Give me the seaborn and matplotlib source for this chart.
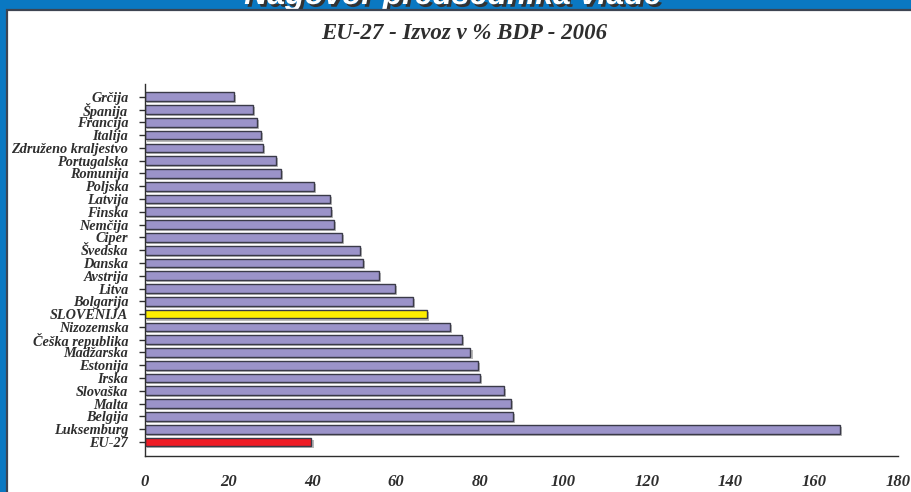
import pandas as pd
import matplotlib
matplotlib.use("Agg")
import matplotlib.pyplot as plt
import matplotlib.patheffects as pe
from matplotlib.patches import Rectangle
from matplotlib.ticker import MultipleLocator
import seaborn as sns

# Data (export as % of GDP, 2006)
countries = [
    "Grčija", "Španija", "Francija", "Italija", "Združeno kraljestvo",
    "Portugalska", "Romunija", "Poljska", "Latvija", "Finska", "Nemčija",
    "Ciper", "Švedska", "Danska", "Avstrija", "Litva", "Bolgarija",
    "SLOVENIJA", "Nizozemska", "Češka republika", "Madžarska", "Estonija",
    "Irska", "Slovaška", "Malta", "Belgija", "Luksemburg", "EU-27",
]
export_pct = [
    21.3, 25.9, 26.7, 27.7, 28.3,
    31.3, 32.4, 40.3, 44.2, 44.5, 45.1,
    47.1, 51.3, 52.1, 55.9, 59.8, 64.0,
    67.4, 73.0, 75.8, 77.8, 79.6,
    80.1, 85.8, 87.5, 87.9, 166.2, 39.8,
]
highlight = {"SLOVENIJA": "#ffee00", "EU-27": "#ee1c25"}
base_color = "#9b93c9"

header = "Nagovor predsednika vlade"
chart_title = "EU-27 - Izvoz v % BDP - 2006"
x_ticks = [0, 20, 40, 60, 80, 100, 120, 140, 160, 180]

df = pd.DataFrame({"country": countries, "value": export_pct})
palette = {c: highlight.get(c, base_color) for c in countries}

sns.set_style("white")
plt.rcParams["font.family"] = ["Liberation Serif", "DejaVu Serif"]
ink = "#2e2e2e"

fig = plt.figure(figsize=(9.11, 4.92), dpi=100)
fig.patch.set_facecolor("#0a78c2")

# white slide panel
panel = Rectangle((7 / 911, -0.01), 1.0, 1.01 - 10 / 492, transform=fig.transFigure,
                  facecolor="white", edgecolor="#3d4452", linewidth=1.6, zorder=-5)
fig.patches.append(panel)

# header text, mostly clipped at the top of the slide (as in the original)
fig.text(0.497, 1 - 4 / 492, header, ha="center", va="baseline",
         fontsize=23, fontweight="bold", fontstyle="italic", color="white",
         family=["Liberation Sans", "DejaVu Sans"], zorder=-6,
         path_effects=[pe.SimplePatchShadow(offset=(2, -2), shadow_rgbFace="#333333", alpha=1),
                       pe.Normal()])

fig.text(464 / 911, 1 - 33 / 492, chart_title, ha="center", va="center",
         fontsize=16.5, fontweight="bold", fontstyle="italic", color=ink)

ax = fig.add_axes([145 / 911, 36 / 492, 753 / 911, 372 / 492])
ax.set_zorder(2)
ax.set_facecolor("none")

sns.barplot(data=df, x="value", y="country", hue="country", palette=palette,
            legend=False, width=0.68, edgecolor="#3a3a48", linewidth=1.0,
            saturation=1, ax=ax)

for bar in ax.patches:
    bar.set_path_effects([
        pe.SimplePatchShadow(offset=(1.5, -1.5), shadow_rgbFace="#9a9a9a", alpha=0.7),
        pe.Normal(),
    ])

ax.set_xlim(0, 180)
ax.set_ylim(len(countries) - 1 + 1.1, -1)
ax.set_xticks(x_ticks)
ax.xaxis.set_minor_locator(MultipleLocator(10))
ax.set_xlabel("")
ax.set_ylabel("")

for side in ["top", "right"]:
    ax.spines[side].set_visible(False)
for side in ["left", "bottom"]:
    ax.spines[side].set_color(ink)
    ax.spines[side].set_linewidth(1.0)

ax.tick_params(axis="x", which="major", direction="inout", length=8, width=1,
               color=ink, pad=9, labelsize=12, labelcolor=ink)
ax.tick_params(axis="x", which="minor", direction="in", length=4, width=1, color=ink)
ax.tick_params(axis="y", which="major", direction="out", length=4, width=1,
               color=ink, pad=8, labelsize=10.3, labelcolor=ink, left=True)

for lbl in ax.get_xticklabels() + ax.get_yticklabels():
    lbl.set_fontweight("bold")
    lbl.set_fontstyle("italic")

fig.savefig("out.png", dpi=100, facecolor=fig.get_facecolor())
